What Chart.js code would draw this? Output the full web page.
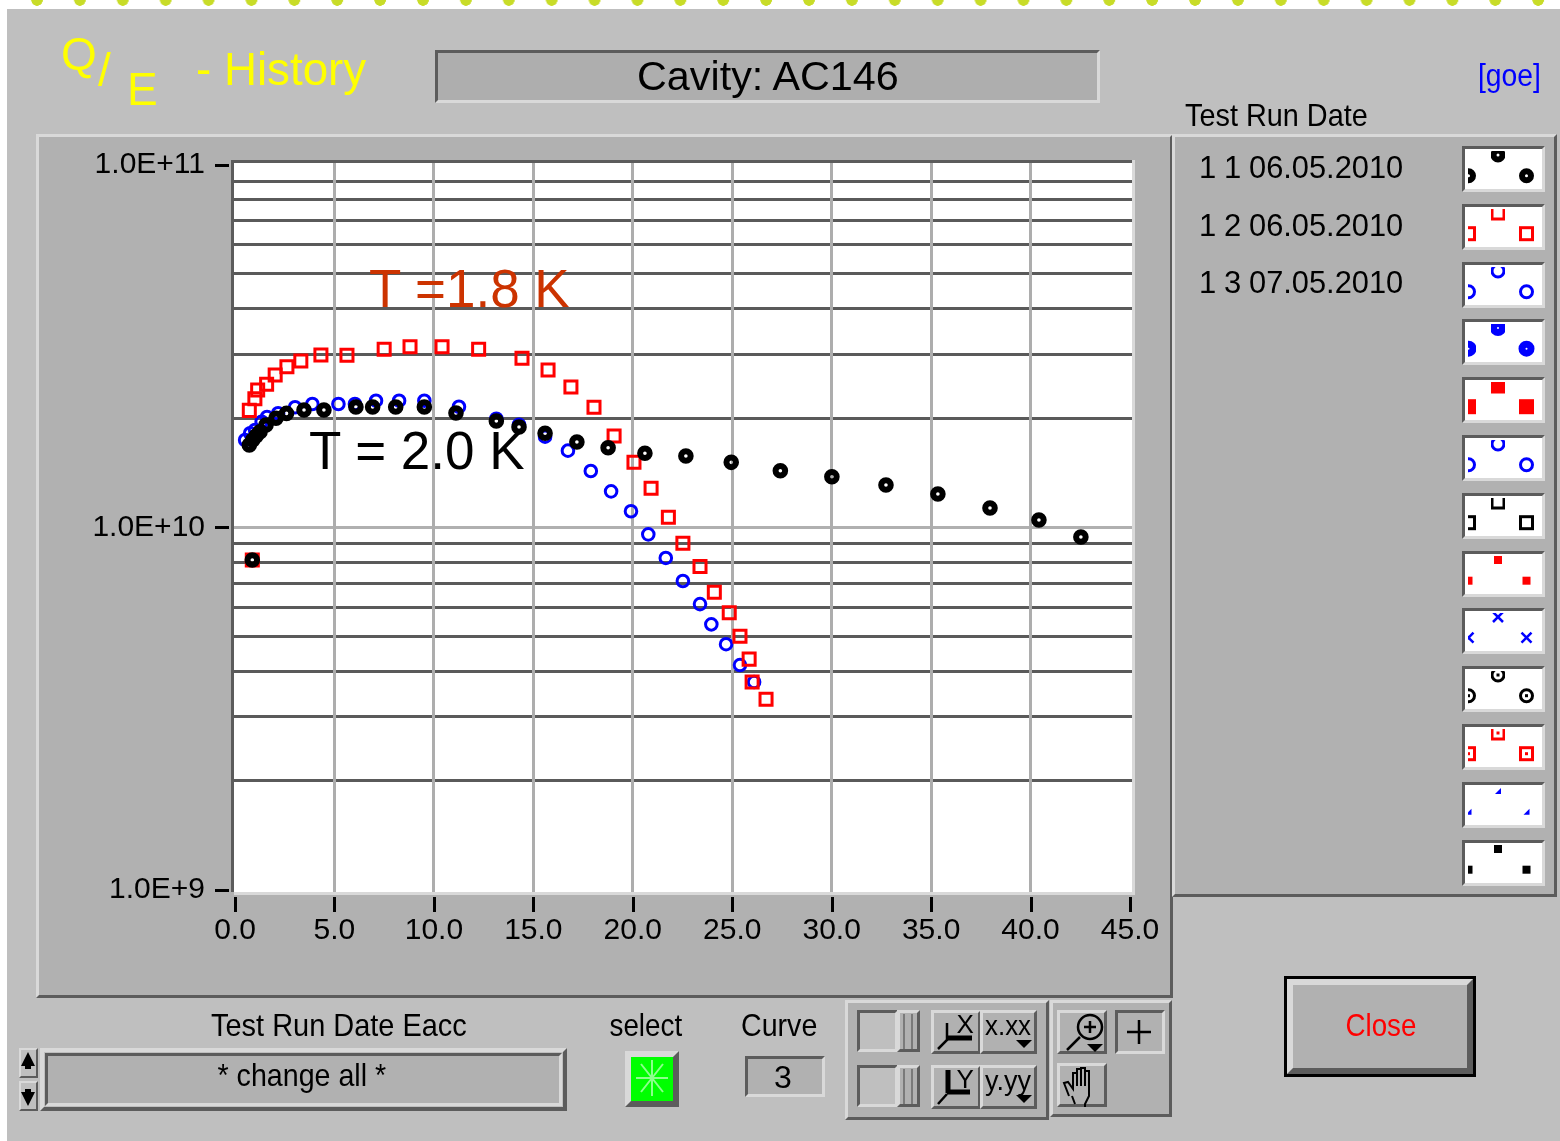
<!DOCTYPE html>
<html>
<head>
<meta charset="utf-8">
<title>Q/E - History</title>
<script src="https://cdn.jsdelivr.net/npm/chart.js@4/dist/chart.umd.min.js"></script>
<style>
  html, body { margin: 0; padding: 0; background: #fff; }
  #page { position: relative; width: 1560px; height: 1141px; overflow: hidden; background: #fff;
          font-family: "Liberation Sans", sans-serif; color: #000; }
  #dots { position: absolute; left: 0; top: 0; width: 1560px; height: 9px;
          background: radial-gradient(circle at 37px 0, #c8dc28 5.5px, transparent 6px) 0 0 / 42.9px 9px repeat-x; }
  #back { position: absolute; left: 7px; top: 9px; width: 1553px; height: 1132px; background: #bfbfbf; }
  .box { position: absolute; box-sizing: border-box; border-style: solid; background: #b1b1b1; }
  .up { border-color: #d9d9d9 #5c5c5c #5c5c5c #d9d9d9; }
  .down { border-color: #5c5c5c #d9d9d9 #d9d9d9 #5c5c5c; }
  .black { border-color: #000; }
  .t { position: absolute; white-space: nowrap; line-height: 1; }
  canvas { position: absolute; }
  svg { position: absolute; left: 0; top: 0; }
</style>
</head>
<body>
<div id="page">
  <div id="dots"></div>
  <div id="back"></div>
</div>
<script>
// values: Eacc, then Q0
var run1Eacc = [0.87, 0.72, 0.89, 1.06, 1.26, 1.56, 2.06, 2.59, 3.47, 4.47, 6.08, 6.92, 8.08, 9.52, 11.11, 13.14, 14.28, 15.59, 17.19, 18.76, 20.61, 22.67, 24.95, 27.42, 30.01, 32.73, 35.34, 37.96, 40.42, 42.53]
var run1Q = [8.12e9, 1.685e10, 1.74e10, 1.784e10, 1.834e10, 1.913e10, 1.997e10, 2.06e10, 2.105e10, 2.105e10, 2.145e10, 2.145e10, 2.145e10, 2.145e10, 2.065e10, 1.963e10, 1.89e10, 1.816e10, 1.718e10, 1.657e10, 1.6e10, 1.572e10, 1.51e10, 1.432e10, 1.378e10, 1.308e10, 1.235e10, 1.13e10, 1.047e10, 9.4e9]

var run2Eacc = [0.87, 0.72, 1.00, 1.14, 1.59, 2.02, 2.61, 3.31, 4.32, 5.63, 7.50, 8.80, 10.41, 12.25, 14.43, 15.74, 16.89, 18.05, 19.06, 20.06, 20.92, 21.79, 22.52, 23.38, 24.10, 24.85, 25.39, 25.85, 26.00, 26.70]
var run2Q = [8.12e9, 2.10e10, 2.262e10, 2.39e10, 2.478e10, 2.628e10, 2.771e10, 2.873e10, 2.984e10, 2.978e10, 3.094e10, 3.146e10, 3.146e10, 3.094e10, 2.922e10, 2.713e10, 2.435e10, 2.142e10, 1.784e10, 1.51e10, 1.281e10, 1.065e10, 9.03e9, 7.8e9, 6.62e9, 5.81e9, 5.01e9, 4.33e9, 3.745e9, 3.355e9]

var run3Eacc = [0.51, 0.76, 1.01, 1.34, 1.61, 2.17, 3.02, 3.89, 5.20, 6.03, 7.09, 8.25, 9.52, 11.26, 13.14, 14.28, 15.59, 16.74, 17.89, 18.91, 19.91, 20.78, 21.66, 22.52, 23.38, 23.95, 24.69, 25.39, 26.10]
var run3Q = [1.74e10, 1.816e10, 1.854e10, 1.954e10, 2.014e10, 2.062e10, 2.142e10, 2.187e10, 2.187e10, 2.187e10, 2.233e10, 2.233e10, 2.233e10, 2.149e10, 1.992e10, 1.917e10, 1.777e10, 1.626e10, 1.429e10, 1.256e10, 1.107e10, 9.56e9, 8.23e9, 7.11e9, 6.14e9, 5.4e9, 4.76e9, 4.17e9, 3.745e9]

var xTicks = [0, 5, 10, 15, 20, 25, 30, 35, 40, 45]
var yDecades = [1e9, 1e10, 1e11]
var yTicks = [1e9, 2e9, 3e9, 4e9, 5e9, 6e9, 7e9, 8e9, 9e9, 1e10, 2e10, 3e10, 4e10, 5e10, 6e10, 7e10, 8e10, 9e10, 1e11]

var runNumbers = ['1', '2', '3']
var runDates = ['06.05.2010', '06.05.2010', '07.05.2010']
var swatchKinds = ['donut', 'open', 'ring', 'fat', 'solid', 'ring', 'open', 'small', 'cross', 'dotring', 'dotsquare', 'corner', 'small']
var swatchColors = ['#000', '#f00', '#00f', '#00f', '#f00', '#00f', '#000', '#f00', '#00f', '#000', '#f00', '#00f', '#000']

var page = document.getElementById('page')

function box(x, y, w, h, kind, border, bg) {
  var d = document.createElement('div')
  d.className = 'box ' + kind
  d.style.cssText = 'left:' + x + 'px;top:' + y + 'px;width:' + w + 'px;height:' + h + 'px;border-width:' + (border || 3) + 'px;' + (bg ? 'background:' + bg + ';' : '')
  page.appendChild(d)
  return d
}

// x is the left edge, or the middle when center is set; fit squeezes the text to that width
function text(str, x, y, size, color, center, fit) {
  var d = document.createElement('div')
  d.className = 't'
  d.textContent = str
  d.style.cssText = 'left:' + x + 'px;top:' + y + 'px;font-size:' + size + 'px;color:' + (color || '#000') + ';transform-origin:0 50%;'
  page.appendChild(d)
  var sx = fit ? fit / d.offsetWidth : 1
  var dx = center ? 'translateX(' + (-d.offsetWidth * sx / 2) + 'px) ' : ''
  d.style.transform = dx + 'translateY(-50%) scaleX(' + sx + ')'
  return d
}

// window furniture under the plot
box(36, 134, 1137, 864, 'up')
box(1172, 134, 385, 763, 'up')
box(435, 50, 665, 53, 'down', 3, '#aeaeae')
box(845, 1000, 204, 120, 'up', 3)
box(1050, 1000, 122, 117, 'up', 3)
box(19, 1048, 19, 30, 'up', 2, '#bfbfbf')
box(19, 1081, 19, 30, 'up', 2, '#bfbfbf')
box(40, 1048, 527, 63, 'up', 4, '#bfbfbf')
box(45, 1053, 517, 53, 'down', 3)
box(625, 1051, 54, 56, 'up', 6, '#00ff00')
box(745, 1056, 80, 41, 'down')
box(857, 1010, 41, 42, 'down', 3, '#bfbfbf')
box(857, 1065, 41, 42, 'down', 3, '#bfbfbf')
box(897, 1010, 23, 42, 'up', 3)
box(897, 1065, 23, 42, 'up', 3)
box(931, 1010, 50, 44, 'up', 3)
box(980, 1010, 57, 44, 'up', 3)
box(931, 1065, 50, 44, 'up', 3)
box(980, 1065, 57, 44, 'up', 3)
box(1057, 1010, 50, 44, 'up', 3)
box(1115, 1010, 50, 44, 'down', 3)
box(1057, 1063, 50, 44, 'up', 3)
box(1284, 976, 192, 101, 'black', 3)
box(1287, 979, 186, 95, 'up', 6)

var canvas = document.createElement('canvas')
canvas.id = 'chart'
canvas.width = 1560
canvas.height = 1141
canvas.style.left = '0px'
canvas.style.top = '0px'
page.appendChild(canvas)

// plot background, frame and short axis ticks
var plotFrame = {
  id: 'plotFrame',
  beforeDraw: function(chart) {
    var c = chart.ctx, a = chart.chartArea
    c.save()
    c.fillStyle = '#fff'
    c.fillRect(a.left, a.top, a.right - a.left, a.bottom - a.top)
    c.restore()
  },
  afterDatasetsDraw: function(chart) {
    var c = chart.ctx, a = chart.chartArea
    c.save()
    c.fillStyle = '#5c5c5c'
    c.fillRect(a.left - 3, a.top - 3, a.right - a.left + 3, 3)
    c.fillRect(a.left - 3, a.top - 3, 3, a.bottom - a.top + 3)
    c.fillStyle = '#d9d9d9'
    c.fillRect(a.left, a.bottom, a.right - a.left + 3, 3)
    c.fillRect(a.right, a.top - 3, 3, a.bottom - a.top + 6)
    c.fillStyle = '#000'
    yDecades.forEach(function(v) {
      c.fillRect(215, Math.round(chart.scales.y.getPixelForValue(v)) - 1, 14, 3)
    })
    xTicks.forEach(function(v) {
      c.fillRect(Math.round(chart.scales.x.getPixelForValue(v)) - 1, 897, 3, 15)
    })
    c.restore()
  }
}

new Chart(canvas.getContext('2d'), {
  type: 'scatter',
  data: {
    datasets: [{
      label: 'Run 1',
      data: run1Eacc.map(function(v, i) { return { x: v, y: run1Q[i] } }),
      pointStyle: 'circle',
      pointRadius: 4.8,
      pointBorderWidth: 6,
      pointBorderColor: '#000',
      pointBackgroundColor: 'transparent'
    }, {
      label: 'Run 2',
      data: run2Eacc.map(function(v, i) { return { x: v, y: run2Q[i] } }),
      pointStyle: 'rect',
      pointRadius: 8.5,
      pointBorderWidth: 3,
      pointBorderColor: '#f00',
      pointBackgroundColor: 'transparent'
    }, {
      label: 'Run 3',
      data: run3Eacc.map(function(v, i) { return { x: v, y: run3Q[i] } }),
      pointStyle: 'circle',
      pointRadius: 5.8,
      pointBorderWidth: 3,
      pointBorderColor: '#00f',
      pointBackgroundColor: 'transparent'
    }]
  },
  options: {
    responsive: false,
    animation: false,
    layout: { padding: { left: 94, top: 163, right: 428, bottom: 189 } },
    plugins: { legend: { display: false }, tooltip: { enabled: false } },
    scales: {
      y: {
        type: 'logarithmic',
        min: 0.9874e9,
        max: 1.0096e11,
        afterFit: function(s) { s.width = 140 },
        afterBuildTicks: function(s) { s.ticks = yTicks.map(function(v) { return { value: v } }) },
        border: { display: false },
        grid: {
          z: -2,
          drawTicks: false,
          lineWidth: 3,
          color: function(ctx) {
            var v = ctx.tick && ctx.tick.value
            if (v === 1e9 || v === 1e11) return 'transparent'
            return v === 1e10 ? '#b0b0b0' : '#5a5a5a'
          }
        },
        ticks: {
          autoSkip: false,
          padding: 29,
          color: '#000',
          font: { family: '"Liberation Sans"', size: 30 },
          callback: function(v) {
            if (yDecades.indexOf(v) < 0) return ''
            return '1.0E+' + Math.round(Math.log10(v))
          }
        }
      },
      x: {
        type: 'linear',
        min: -0.05,
        max: 45.1,
        afterFit: function(s) { s.height = 60 },
        afterBuildTicks: function(s) { s.ticks = xTicks.map(function(v) { return { value: v } }) },
        border: { display: false },
        grid: { z: -1, drawTicks: false, lineWidth: 3, color: function(ctx) {
          return ctx.tick && ctx.tick.value === 0 || ctx.tick && ctx.tick.value === 45 ? 'transparent' : '#adadad'
        } },
        ticks: {
          autoSkip: false,
          maxRotation: 0,
          padding: 21,
          color: '#000',
          font: { family: '"Liberation Sans"', size: 30 },
          callback: function(v) { return v.toFixed(1) }
        }
      }
    }
  },
  plugins: [plotFrame]
})

// legend swatches are small white boxes with three cut-off markers
function drawMarker(c, kind, color, x, y) {
  c.fillStyle = color
  c.strokeStyle = color
  if (kind === 'donut' || kind === 'fat') {
    c.lineWidth = kind === 'fat' ? 7 : 6
    c.beginPath(); c.arc(x, y, 4.5, 0, Math.PI * 2); c.stroke()
  } else if (kind === 'ring') {
    c.lineWidth = 3
    c.beginPath(); c.arc(x, y, 6, 0, Math.PI * 2); c.stroke()
  } else if (kind === 'open') {
    c.lineWidth = 3
    c.strokeRect(x - 6, y - 6, 12, 12)
  } else if (kind === 'solid') {
    c.fillRect(x - 7.5, y - 7.5, 15, 15)
  } else if (kind === 'small') {
    c.fillRect(x - 4, y - 4, 8, 8)
  } else if (kind === 'cross') {
    c.lineWidth = 2.5
    c.beginPath(); c.moveTo(x - 5, y - 5); c.lineTo(x + 5, y + 5); c.moveTo(x + 5, y - 5); c.lineTo(x - 5, y + 5); c.stroke()
  } else if (kind === 'dotring') {
    c.lineWidth = 3
    c.beginPath(); c.arc(x, y, 6, 0, Math.PI * 2); c.stroke()
    c.fillRect(x - 1.5, y - 1.5, 3, 3)
  } else if (kind === 'dotsquare') {
    c.lineWidth = 3
    c.strokeRect(x - 6, y - 6, 12, 12)
    c.fillRect(x - 1.5, y - 1.5, 3, 3)
  } else if (kind === 'corner') {
    c.beginPath(); c.moveTo(x - 3, y + 3); c.lineTo(x + 3, y + 3); c.lineTo(x + 3, y - 3); c.fill()
  }
}

swatchKinds.forEach(function(kind, i) {
  var top = Math.round(146 + i * 57.8)
  box(1462, top, 83, 46, 'down', 3, '#fff')
  var cv = document.createElement('canvas')
  cv.width = 77
  cv.height = 40
  cv.style.left = '1465px'
  cv.style.top = (top + 3) + 'px'
  page.appendChild(cv)
  var c = cv.getContext('2d')
  // top marker loses its top, left marker loses its left, right one is whole
  c.save(); c.beginPath(); c.rect(26, 2, 14, 16); c.clip(); drawMarker(c, kind, swatchColors[i], 33, 6); c.restore()
  c.save(); c.beginPath(); c.rect(3, 17, 8, 23); c.clip(); drawMarker(c, kind, swatchColors[i], 3.5, 26.7); c.restore()
  drawMarker(c, kind, swatchColors[i], 61.5, 26.7)
})

// labels
text('Q', 61, 54, 46, '#ffff00')
text('/', 98, 70, 46, '#ffff00')
text('E', 127, 89, 46, '#ffff00')
text('- History', 196, 69, 46, '#ffff00', false, 170)
text('Cavity: AC146', 768, 76, 41, '#000', true, 262)
text('[goe]', 1478, 75, 31, '#0000ff', false, 63)
text('Test Run Date', 1185, 115, 32, '#000', false, 183)
runNumbers.forEach(function(n, i) {
  var y = 167 + i * 57.5
  text('1', 1199, y, 31)
  text(n, 1224, y, 31)
  text(runDates[i], 1249, y, 31, '#000', false, 154)
})
text('T =1.8 K', 369, 288, 54, '#cc3300', false, 201)
text('T = 2.0 K', 309, 450, 54, '#000', false, 216)
text('Test Run Date Eacc', 339, 1025, 32, '#000', true, 256)
text('select', 646, 1025, 32, '#000', true, 73)
text('Curve', 779, 1025, 32, '#000', true, 76)
text('* change all *', 302, 1075, 32, '#000', true, 169)
text('3', 783, 1077, 32, '#000', true)
text('Close', 1381, 1025, 32, '#ff0000', true, 71)
text('x.xx', 1008, 1026, 27, '#000', true, 46)
text('y.yy', 1008, 1081, 27, '#000', true, 46)
text('X', 965, 1024, 26, '#000', true)
text('Y', 965, 1079, 26, '#000', true)

// toolbar glyphs and the spinner arrows
var glyphs = '<svg width="1560" height="1141" viewBox="0 0 1560 1141" fill="none" stroke="#000">'
  + '<path fill="#000" stroke="none" d="M21 1066h14l-7-14zM25 1066h6v3h-6zM21 1092h14l-7 14zM25 1089h6v3h-6zM1016 1040h16l-8 8zM1016 1095h16l-8 8zM1087 1044h16l-8 8z"/>'
  + '<path stroke-width="2" stroke="#8cff8c" d="M652 1060v36M636 1078h32M641 1064l22 28M663 1064l-22 28"/>'
  + '<path stroke-width="2.5" d="M947 1023v17l-9 9M1080 1037l-13 13M1127 1032h24M1139 1020v24M1084 1027h12M1090 1021v12"/>'
  + '<path stroke-width="5" d="M947 1038h25M948 1070v23M947 1092h23"/>'
  + '<path stroke-width="2.5" d="M938 1104l9-10"/>'
  + '<circle cx="1090" cy="1027" r="12" stroke-width="2.5"/>'
  + '<path stroke-width="2" d="M1069 1096l-5-13 4-1 5 7v-16h4v13-17h4v17-18h4v18-15h4v25l-4 8v3M1072 1096l3 8"/>'
  + '<path stroke-width="2" stroke="#7a7a7a" d="M904 1014v35M912 1014v35M904 1069v35M912 1069v35"/>'
  + '</svg>'
page.insertAdjacentHTML('beforeend', glyphs)
</script>
</body>
</html>
